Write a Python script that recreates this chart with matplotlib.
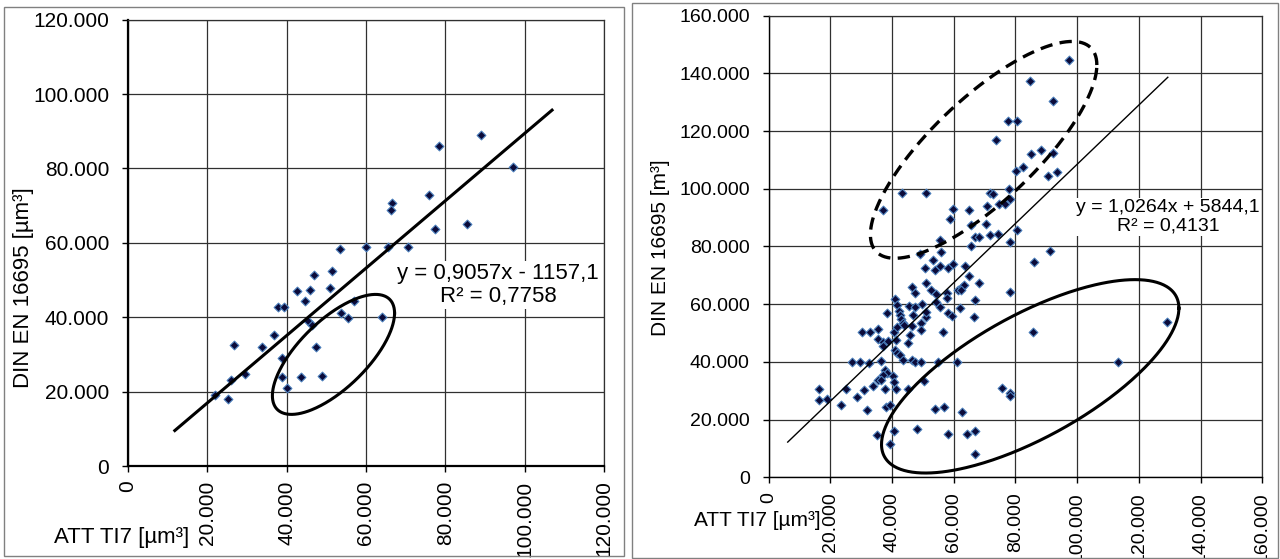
import numpy as np
import matplotlib
matplotlib.use("Agg")
import matplotlib.pyplot as plt
from matplotlib.ticker import FuncFormatter, MultipleLocator
from matplotlib.patches import Rectangle

plt.rcParams['font.family'] = ['Liberation Sans', 'DejaVu Sans']

# linkes Diagramm: ATT TI7 vs DIN EN 16695 [µm³]
left_x = [89100, 78400, 97000, 75900, 66500, 66300, 77400, 85500, 53500, 60100,
          65500, 70500, 51500, 47000, 42500, 46000, 51000, 44500, 57000, 37900,
          39400, 53800, 55500, 64000, 45300, 46300, 36900, 26800, 33700, 47300,
          38800, 29400, 38900, 43700, 48800, 26000, 40100, 22000, 25300]
left_y = [89000, 85900, 80500, 72800, 70600, 68900, 63800, 65000, 58400, 58900,
          58900, 59000, 52400, 51400, 47000, 47300, 47800, 44300, 44300, 42700,
          42700, 41100, 39900, 40000, 39100, 37800, 35200, 32500, 32000, 32100,
          28900, 24800, 24000, 23800, 24200, 23100, 20900, 19000, 18100]
left_slope, left_icpt = 0.9057, -1157.1
left_line_x = [11800, 106900]
left_eq = "y = 0,9057x - 1157,1\nR² = 0,7758"

# rechtes Diagramm: ATT TI7 vs DIN EN 16695 [m³]
right_x = [97300, 84700, 92100, 77600, 80400, 73700, 85000, 88400, 92100, 82500,
           80100, 93600, 90600, 78000, 43200, 51100, 71800, 72700, 78100, 74600,
           76600, 70900, 37200, 59900, 65100, 58900, 65600, 70500, 80500, 66900,
           68200, 71800, 74200, 78300, 65600, 55600, 55800, 91100, 49200, 53300,
           85900, 50800, 53800, 55600, 58100, 59900, 63800, 65100,
           51100, 46600, 47500, 52700, 54400, 61400, 62700, 63400, 68200, 57700,
           40900, 66900, 78400, 41600, 45500, 47500, 49800, 54400, 55700, 57800,
           61900, 38300, 42400, 42500, 46900, 51100, 58300, 59400, 66500, 42900,
           43600, 49500, 30400, 33000, 35400, 40500, 41600, 44000, 45800, 49500,
           56400, 85800, 35600, 37100, 38700, 41300, 37000, 45300, 40900, 41600,
           42600, 43600, 27100, 29700, 32600, 36300, 46600, 47500, 49500, 55000,
           61100, 113300, 37600, 38400, 37000, 35400, 36300, 40300, 40500, 33700,
           30800, 25100, 16200, 37600, 41300, 45300, 50400, 75500, 78300, 78300,
           16200, 18900, 28600, 23500, 31800, 37900, 39200, 54000, 56800, 62800,
           129100, 35000, 40500, 48200, 58300, 64300, 66900, 39200, 66900, 51000,
           62300, 46500]
right_y = [144500, 137200, 130500, 123600, 123600, 117000, 112100, 113300, 112300, 107700,
           106200, 105900, 104300, 100100, 98600, 98600, 98700, 98300, 96600, 94800,
           94600, 94200, 92800, 93100, 92800, 89600, 87300, 87900, 85800, 83400,
           83400, 84100, 84400, 81500, 80100, 82100, 78200, 78500, 77500, 75400,
           74600, 72500, 71800, 73100, 72500, 73800, 73100, 69900,
           67300, 65800, 64000, 64900, 63500, 65000, 66100, 66700, 67300, 64000,
           61800, 61500, 64200, 59800, 59400, 59200, 59900, 60900, 59200, 62100,
           58600, 56900, 57500, 56300, 56100, 55500, 57100, 56000, 55400, 54800,
           53400, 53600, 50200, 50200, 51300, 50300, 52000, 52800, 49400, 51100,
           50300, 50500, 47900, 47000, 47400, 47600, 45500, 46500, 44200, 43200,
           42400, 40700, 39900, 40000, 39700, 40200, 40700, 39900, 40000, 40100,
           40000, 40000, 37200, 36100, 35500, 33800, 33800, 35100, 33200, 31700,
           30100, 30500, 30500, 30700, 30700, 30700, 33500, 30900, 29100, 28200,
           26800, 27100, 27700, 25200, 23400, 24500, 25200, 23700, 24500, 22800,
           54000, 14700, 16200, 16800, 14900, 15100, 16200, 11400, 8100, 57400,
           64900, 52400]
right_slope, right_icpt = 1.0264, 5844.1
right_line_x = [6200, 129400]
right_eq = "y = 1,0264x + 5844,1\nR² = 0,4131"

# Ellipsen (Mittelpunkt, Halbachse x, Anteil cos/sin in y)
left_ell = (51800, 30000, 15400, 11100, 11700)
right_ell = (84800, 35000, 48200, 23600, 23800)
right_dash_ell = (69700, 113500, 36700, 29400, 23400)


def fmt(v, pos):
    return f"{int(round(v)):,}".replace(",", ".")


def ellipse(ax, e, **kw):
    cx, cy, a, c, d = e
    t = np.linspace(0, 2 * np.pi, 400)
    ax.plot(cx + a * np.cos(t), cy + c * np.cos(t) + d * np.sin(t),
            color='black', clip_on=False, zorder=5, **kw)


def style_axes(ax, xmax, ymax, spine_lw, fs):
    ax.set_xlim(0, xmax)
    ax.set_ylim(0, ymax)
    ax.xaxis.set_major_locator(MultipleLocator(20000))
    ax.yaxis.set_major_locator(MultipleLocator(20000))
    ax.xaxis.set_major_formatter(FuncFormatter(fmt))
    ax.yaxis.set_major_formatter(FuncFormatter(fmt))
    ax.grid(True, color='#303030', linewidth=0.9)
    ax.set_axisbelow(True)
    for s in ['top', 'right']:
        ax.spines[s].set_color('#303030')
        ax.spines[s].set_linewidth(0.9)
    for s in ['left', 'bottom']:
        ax.spines[s].set_color('black')
        ax.spines[s].set_linewidth(spine_lw)
    ax.tick_params(axis='both', direction='out', length=4.5, width=1, labelsize=fs)
    ax.tick_params(axis='y', pad=9)
    ax.tick_params(axis='x', pad=6)
    for lab in ax.get_xticklabels():
        lab.set_rotation(90)
        lab.set_va('top')


fig = plt.figure(figsize=(12.8, 5.59), dpi=100)

# Rahmen der beiden Diagramme
fig.patches.append(Rectangle((4 / 1280, 3 / 559), 620 / 1280, 549 / 559, transform=fig.transFigure,
                             fill=False, edgecolor='#808080', linewidth=1))
fig.patches.append(Rectangle((632 / 1280, 1 / 559), 646 / 1280, 555 / 559, transform=fig.transFigure,
                             fill=False, edgecolor='#808080', linewidth=1))

ax1 = fig.add_axes([128 / 1280, 93 / 559, 476 / 1280, 446.4 / 559])
ax1.scatter(left_x, left_y, marker='D', s=20, facecolor='#0b0b3a', edgecolor='#4a7ebb',
            linewidth=0.8, zorder=3)
lx = np.array(left_line_x)
ax1.plot(lx, left_slope * lx + left_icpt, color='black', linewidth=2.2, zorder=4)
ellipse(ax1, left_ell, linewidth=2.2)
style_axes(ax1, 120000, 120000, 1.6, 15)

ax2 = fig.add_axes([768.6 / 1280, 81.7 / 559, 493.6 / 1280, 461.6 / 559])
ax2.scatter(right_x, right_y, marker='D', s=20, facecolor='#0b0b3a', edgecolor='#4a7ebb',
            linewidth=0.8, zorder=3)
rx = np.array(right_line_x)
ax2.plot(rx, right_slope * rx + right_icpt, color='black', linewidth=1.0, zorder=4)
ellipse(ax2, right_ell, linewidth=2.2)
ellipse(ax2, right_dash_ell, linewidth=2.4, linestyle=(0, (3.7, 2.2)))
style_axes(ax2, 160000, 160000, 1.0, 14)

# Achsentitel
fig.text(24 / 1280, 1 - 288 / 559, "DIN EN 16695 [µm³]", rotation=90, ha='center', va='center', fontsize=16)
fig.text(122 / 1280, 1 - 538 / 559, "ATT TI7 [µm³]", ha='center', va='center', fontsize=16)
fig.text(661 / 1280, 1 - 248 / 559, "DIN EN 16695 [m³]", rotation=90, ha='center', va='center', fontsize=15)
fig.text(757 / 1280, 1 - 520 / 559, "ATT TI7 [µm³]", ha='center', va='center', fontsize=15)

# Trendlinien-Gleichungen (unter den Ellipsen)
ax1.text(498 / 1280, 1 - 285 / 559, left_eq, transform=fig.transFigure, ha='center', va='center',
         multialignment='center', fontsize=16, linespacing=1.15, zorder=4.5, clip_on=False,
         bbox=dict(facecolor='white', edgecolor='none', pad=1))
ax2.text(1168 / 1280, 1 - 217 / 559, right_eq, transform=fig.transFigure, ha='center', va='center',
         multialignment='center', fontsize=14, linespacing=1.1, zorder=4.5, clip_on=False,
         bbox=dict(facecolor='white', edgecolor='none', pad=1))

fig.savefig("out.png", dpi=100)
